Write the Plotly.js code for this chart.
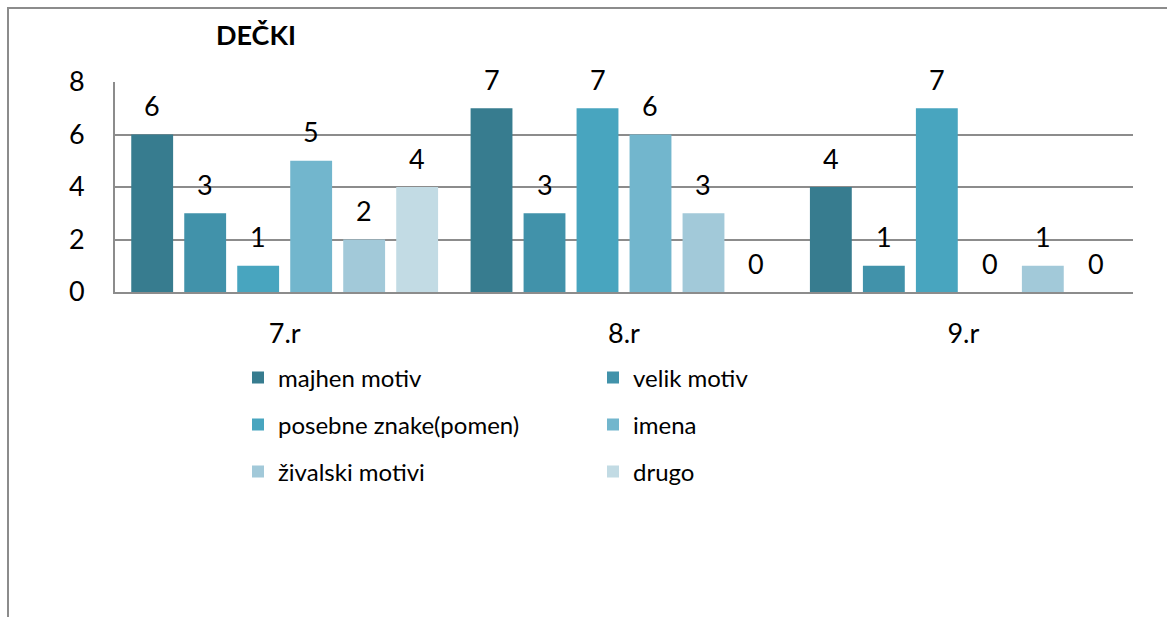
<!DOCTYPE html>
<html>
<head>
<meta charset="utf-8">
<script src="https://cdn.plot.ly/plotly-3.0.1.min.js"></script>
<style>
  html, body { margin: 0; padding: 0; background: #ffffff; overflow: hidden; width: 1167px; height: 617px; }
  #frame { position: absolute; left: 7px; top: 7px; width: 2000px; height: 2000px;
           border-left: 2px solid #8c8c8c; border-top: 2px solid #8c8c8c; }
  #chart { position: absolute; left: 0; top: 0; width: 1167px; height: 617px; }
</style>
</head>
<body>
<div id="frame"></div>
<div id="chart"></div>
<script>
// ---- data ----
const categories = ["7.r", "8.r", "9.r"];
const seriesNames = ["majhen motiv", "velik motiv", "posebne znake(pomen)", "imena", "živalski motivi", "drugo"];
const majhenMotiv = [6, 7, 4];
const velikMotiv = [3, 3, 1];
const posebneZnake = [1, 7, 7];
const imena = [5, 6, 0];
const zivalskiMotivi = [2, 3, 1];
const drugo = [4, 0, 0];
const yTicks = [0, 2, 4, 6, 8];
const chartTitle = "DEČKI";

// ---- style ----
const seriesValues = [majhenMotiv, velikMotiv, posebneZnake, imena, zivalskiMotivi, drugo];
const colors = ["#377c8f", "#4192aa", "#48a5bf", "#72b6cd", "#a2c9d9", "#c2dbe4"];
const legendIds = ["legend", "legend", "legend2", "legend2", "legend3", "legend3"];
const FONT = "Lato, 'Open Sans', sans-serif";
const W = 1167, H = 617;
const M = { l: 115, r: 34, t: 82, b: 325 };
const plotW = W - M.l - M.r;
const plotH = H - M.t - M.b;
const bargap = 0.063;
const slotPx = plotW / categories.length * (1 - bargap) / seriesValues.length;

const traces = seriesValues.map((vals, i) => ({
  type: "bar",
  name: seriesNames[i],
  x: categories,
  y: vals,
  marker: { color: colors[i], line: { width: 0 } },
  legend: legendIds[i],
  hoverinfo: "name+y"
}));

const annotations = [];
seriesValues.forEach((vals, i) => {
  vals.forEach((v, j) => {
    annotations.push({
      x: categories[j], y: v, xref: "x", yref: "y",
      text: String(v), showarrow: false,
      xanchor: "center", yanchor: "middle",
      xshift: (i - (seriesValues.length - 1) / 2) * slotPx,
      yshift: 29,
      font: { family: FONT, size: 27, color: "#000000" }
    });
  });
});

function rowY(pix) { return (M.t + plotH - pix) / plotH; }
const legendBase = {
  orientation: "h", xanchor: "left", yanchor: "middle",
  x: (238 - M.l) / plotW,
  entrywidth: 310, entrywidthmode: "pixels",
  font: { family: FONT, size: 24, color: "#000000" },
  bgcolor: "rgba(0,0,0,0)", borderwidth: 0, itemclick: false, itemdoubleclick: false
};

const layout = {
  width: W, height: H,
  margin: M,
  paper_bgcolor: "rgba(0,0,0,0)",
  plot_bgcolor: "rgba(0,0,0,0)",
  font: { family: FONT, size: 27, color: "#000000" },
  title: {
    text: "<b>" + chartTitle + "</b>",
    font: { family: FONT, size: 27, color: "#000000" },
    x: 256 / W, xref: "container", xanchor: "center",
    y: 1 - 36 / H, yref: "container", yanchor: "middle"
  },
  barmode: "group",
  bargap: bargap,
  bargroupgap: 0.21,
  xaxis: {
    type: "category",
    showgrid: false,
    showline: true, linecolor: "#8c8c8c", linewidth: 2,
    ticks: "", ticklabelstandoff: 17,
    tickfont: { family: FONT, size: 27, color: "#000000" },
    fixedrange: true
  },
  yaxis: {
    range: [0, 8],
    tickvals: yTicks,
    ticktext: yTicks.map(String),
    showgrid: true, gridcolor: "#8c8c8c", gridwidth: 2,
    zeroline: false,
    showline: true, linecolor: "#8c8c8c", linewidth: 2,
    ticks: "", ticklabelstandoff: 23,
    tickfont: { family: FONT, size: 27, color: "#000000" },
    fixedrange: true
  },
  showlegend: true,
  legend: Object.assign({}, legendBase, { y: rowY(378) }),
  legend2: Object.assign({}, legendBase, { y: rowY(425) }),
  legend3: Object.assign({}, legendBase, { y: rowY(472) }),
  annotations: annotations
};

Plotly.newPlot("chart", traces, layout, { displayModeBar: false, staticPlot: false });
</script>
</body>
</html>
